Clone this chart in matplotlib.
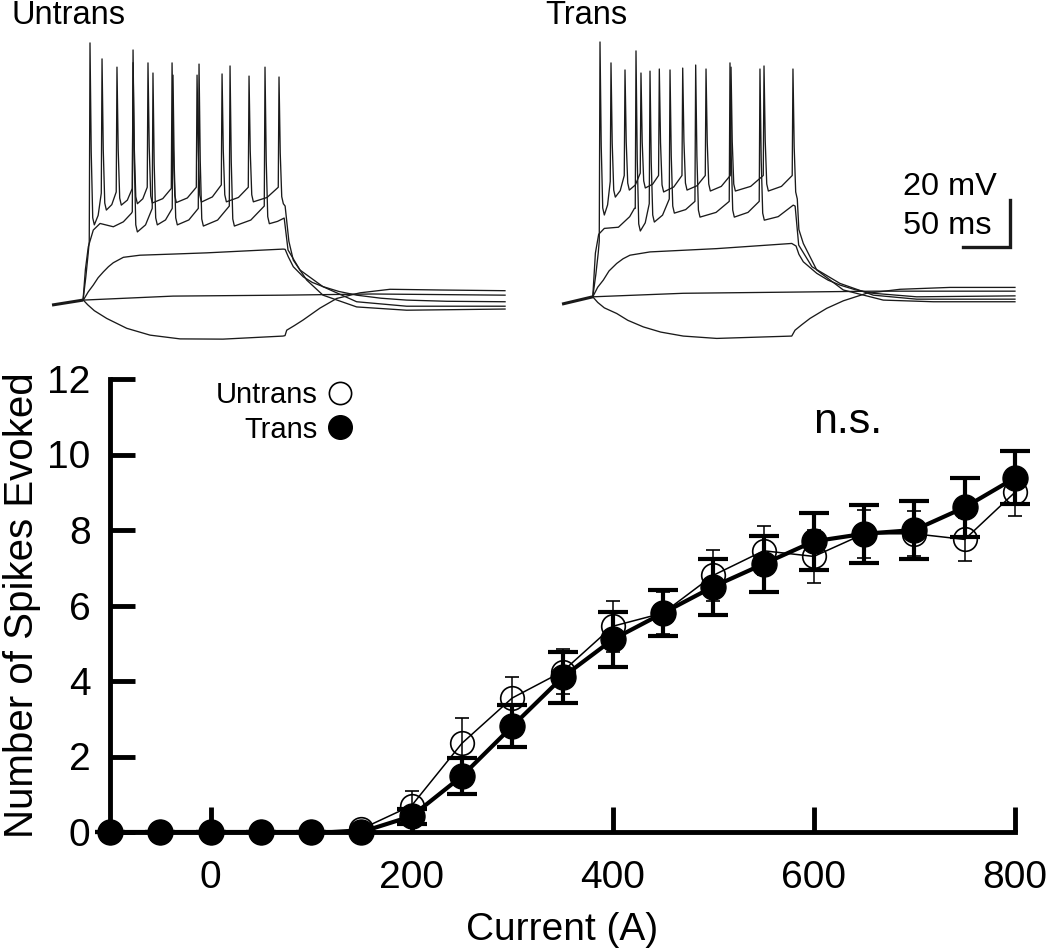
import numpy as np
import matplotlib
matplotlib.use("Agg")
import matplotlib.pyplot as plt

plt.rcParams['font.family'] = ['Liberation Sans', 'DejaVu Sans']

# ---- F-I curve data (current in A, spikes evoked, SEM) ----
currents = [-100, -50, 0, 50, 100, 150, 200, 250, 300, 350, 400, 450, 500, 550, 600, 650, 700, 750, 800]
untrans_mean = [0, 0, 0, 0, 0, 0.08, 0.7, 2.35, 3.55, 4.25, 5.45, 5.8, 6.8, 7.45, 7.3, 7.9, 7.9, 7.75, 9.0]
untrans_sem = [0, 0, 0, 0, 0, 0.05, 0.38, 0.68, 0.56, 0.6, 0.68, 0.55, 0.68, 0.65, 0.7, 0.63, 0.6, 0.58, 0.62]
trans_mean = [0, 0, 0, 0, 0, 0, 0.42, 1.48, 2.8, 4.1, 5.1, 5.8, 6.5, 7.1, 7.7, 7.9, 8.0, 8.6, 9.38]
trans_sem = [0, 0, 0, 0, 0, 0, 0.2, 0.48, 0.56, 0.67, 0.72, 0.6, 0.74, 0.75, 0.76, 0.77, 0.78, 0.78, 0.7]

# ---- example traces (time in ms, membrane potential in mV) ----
# Untrans
u_rest_t = [0, 33]
u_rest_v = [-67.1, -65.0]
u_hyp_t = [33.3, 38, 45, 58.2, 79.5, 104.3, 136.2, 181.9, 245.7, 247.9, 249.7, 258, 267, 285.1, 302.9, 327.7, 359.6, 412.8, 481.9]
u_hyp_v = [-65, -67.0, -69.5, -72.8, -77.0, -79.9, -81.5, -81.6, -80.3, -80.1, -77.8, -75.8, -73.5, -68.4, -64.3, -61.9, -60.4, -60.7, -61.0]
u_zero_t = [33, 128.7, 245.7, 341.5, 482]
u_zero_v = [-65, -63.3, -62.9, -62.4, -62.9]
u_sub_t = [33.3, 38.5, 43.9, 49, 54.6, 60, 65.2, 75.9, 93.6, 130, 164.6, 210, 246, 248, 251.4, 256.7, 267.3, 277, 288.6, 305, 324.1, 350, 377.3, 420, 482]
u_sub_v = [-65, -61.5, -58.6, -55.5, -53.0, -50.8, -49.1, -46.8, -45.9, -45.4, -44.9, -44.0, -43.3, -43.4, -46.6, -50.8, -55.1, -57.5, -59.3, -61.3, -62.9, -64.2, -65.0, -65.5, -65.7]
# Untrans, strong step
ua_pre_t = [33, 36, 38.5]
ua_pre_v = [-65, -55, -45]
ua_spk_t = [40.4, 53.2, 69.1, 86.2, 102.1, 127.7, 154.3, 180.9, 209.6, 241.5]
ua_spk_v = [44.4, 37.6, 34.1, 36.0, 35.9, 35.9, 30.7, 31.2, 30.3, 29.9]
ua_thr = [-40, -19.5, -19.0, -17.5, -17.0, -17.5, -17.0, -16.0, -17.0, -17.0]
ua_trough = [-33.0, -26.7, -24.6, -24.0, -23.7, -23.5, -23.3, -23.2, -23.2, -24.0]
ua_end_t = [248, 252, 256.7, 271, 288.3, 324.1, 377.3, 482]
ua_end_v = [-25, -40, -48, -56.5, -62.9, -67.9, -69.3, -68.8]
# Untrans, weaker step
ub_pre_t = [33, 35.5, 38.6, 43.9, 51.1, 65.2, 75.9, 84.6]
ub_pre_v = [-65, -52, -42.3, -35.2, -32.4, -33.8, -31.7, -28.0]
ub_spk_t = [86.2, 107.4, 128.7, 156.4, 189.4, 226.6]
ub_spk_v = [41.4, 31.6, 30.7, 35.4, 34.6, 34.1]
ub_thr = [-27.4, -26, -26, -26, -25, -25]
ub_trough = [-36.0, -33.0, -33.0, -33.5, -33.5, -32.5]
ub_end_t = [240, 247, 251.1, 263.8, 288.3, 324.1, 377.3, 482]
ub_end_v = [-31.5, -30.1, -43.7, -52.2, -59.3, -65.7, -67.6, -67.6]

# Trans
t_rest_t = [0, 32.7]
t_rest_v = [-66.7, -63.6]
t_hyp_t = [32.7, 38, 45, 58.2, 70, 86.5, 105, 129, 164.6, 244.4, 247.9, 255, 263.8, 281.6, 299.3, 324.1, 359.6, 412.8, 481.9]
t_hyp_v = [-63.6, -66.0, -68.3, -70.7, -73.6, -76.4, -78.6, -80.3, -81.3, -80.3, -77.8, -75.5, -72.8, -68.5, -65.3, -62.1, -60.4, -59.6, -59.6]
t_zero_t = [32.7, 129, 244.4, 333, 481.9]
t_zero_v = [-63.6, -62.1, -61.6, -61.2, -61.2]
t_sub_t = [32.7, 38, 43.9, 50, 58.2, 65, 72.3, 93.6, 164.6, 244.4, 249, 252, 256.7, 271, 283, 295.7, 312, 331.2, 377.3, 481.9]
t_sub_v = [-63.6, -59.5, -56.5, -52.6, -49.4, -47.4, -45.9, -44.5, -43.1, -40.9, -42.0, -45.5, -48.7, -53.6, -56.5, -58.6, -60.6, -62.1, -63.6, -63.2]
ta_pre_t = [32.7, 36, 38.5]
ta_pre_v = [-63.6, -54, -45]
ta_spk_t = [40.4, 52.1, 67.0, 84.0, 103.5, 128.4, 153.2, 179.8, 214.9, 245.7]
ta_spk_v = [44.8, 35.9, 32.9, 31.6, 33.3, 33.7, 33.3, 34.1, 34.6, 33.3]
ta_thr = [-40, -14.5, -12, -11, -12, -12, -12, -12, -12, -12]
ta_trough = [-28.8, -21.2, -18.2, -17.3, -19.0, -18.2, -18.6, -18.6, -18.6, -22.0]
ta_end_t = [252, 256.7, 271, 299.3, 341.8, 394.9, 481.9]
ta_end_v = [-35, -40.9, -52.2, -60.7, -65, -65.7, -65.7]
tb_pre_t = [32.7, 35.5, 39, 45, 60, 72, 77.0]
tb_pre_v = [-63.6, -45, -37, -34.5, -34.0, -29.5, -26]
tb_spk_t = [78.7, 93.6, 114.9, 142.2, 178.7, 210.6]
tb_spk_v = [41.0, 32.4, 32.9, 35.0, 35.9, 33.3]
tb_thr = [-26, -24, -22, -23, -23, -23]
tb_trough = [-35.6, -31.8, -28.0, -29.7, -29.7, -31.0]
tb_end_t = [230, 246, 248, 251.8, 265.9, 295.7, 331.2, 377.3, 481.9]
tb_end_v = [-29.5, -24.6, -25, -41.6, -50.8, -57.9, -62.9, -64.6, -64.6]


def spiking_trace(pre_t, pre_v, spk_t, spk_v, thr, trough, end_t, end_v):
    # join the read-off knots: ramp -> threshold -> peak -> trough for each spike
    t = list(pre_t)
    v = list(pre_v)
    for i, (ts, pk) in enumerate(zip(spk_t, spk_v)):
        if i > 0:
            prev = spk_t[i - 1]
            t.append(prev + 4.6 + 0.55 * (ts - prev - 5.4))
            v.append(trough[i - 1] + 0.3 * (thr[i] - trough[i - 1]))
        t += [ts - 0.8, ts, ts + 1.3, ts + 2.9, ts + 4.6]
        v += [thr[i], pk, pk - 0.6 * (pk - trough[i]), trough[i] + 3, trough[i]]
    for tt, vv in zip(end_t, end_v):
        if tt > t[-1]:
            t.append(tt)
            v.append(vv)
    return t, v


fig = plt.figure(figsize=(10.5, 9.52), dpi=100)

trace_sets = [
    ("Untrans", 40 / 1050, u_rest_t, u_rest_v,
     [(u_hyp_t, u_hyp_v), (u_zero_t, u_zero_v), (u_sub_t, u_sub_v),
      spiking_trace(ua_pre_t, ua_pre_v, ua_spk_t, ua_spk_v, ua_thr, ua_trough, ua_end_t, ua_end_v),
      spiking_trace(ub_pre_t, ub_pre_v, ub_spk_t, ub_spk_v, ub_thr, ub_trough, ub_end_t, ub_end_v)]),
    ("Trans", 550 / 1050, t_rest_t, t_rest_v,
     [(t_hyp_t, t_hyp_v), (t_zero_t, t_zero_v), (t_sub_t, t_sub_v),
      spiking_trace(ta_pre_t, ta_pre_v, ta_spk_t, ta_spk_v, ta_thr, ta_trough, ta_end_t, ta_end_v),
      spiking_trace(tb_pre_t, tb_pre_v, tb_spk_t, tb_spk_v, tb_thr, tb_trough, tb_end_t, tb_end_v)]),
]

trace_axes = []
for name, left, rt, rv, sweeps in trace_sets:
    tax = fig.add_axes([left, 0.6376, 480 / 1050, 0.3309])
    tax.plot(rt, rv, color='#1a1a1a', lw=2.2, solid_capstyle='butt')
    for st, sv in sweeps:
        tax.plot(st, sv, color='#1a1a1a', lw=0.95)
    tax.set_xlim(-12.8, 497.9)
    tax.set_ylim(-84.1, 49.9)
    tax.axis('off')
    trace_axes.append(tax)

fig.text(12 / 1050, 1 - 24 / 952, "Untrans", fontsize=23.5, ha='left', va='baseline')
fig.text(545 / 1050, 1 - 24 / 952, "Trans", fontsize=23.5, ha='left', va='baseline')

# scale bar: 50 ms x 20 mV
sax = trace_axes[1]
sax.plot([426.6, 476.6, 476.6], [-42.4, -42.4, -22.4], color='#1a1a1a', lw=2.4,
         solid_joinstyle='miter', clip_on=False)
fig.text(903 / 1050, 1 - 195 / 952, "20 mV", fontsize=23.4, ha='left', va='baseline')
fig.text(903 / 1050, 1 - 234 / 952, "50 ms", fontsize=23.4, ha='left', va='baseline')

# ---- F-I curve ----
ax = fig.add_axes([110 / 1050, 120 / 952, 905 / 1050, 453 / 952])
eb_u = ax.errorbar(currents, untrans_mean, yerr=untrans_sem, fmt='-o', color='black',
                   mfc='none', mec='black', ms=17, mew=1.2, lw=1.1, elinewidth=1.1,
                   capsize=5, capthick=1.1, zorder=3)
eb_t = ax.errorbar(currents, trans_mean, yerr=trans_sem, fmt='-o', color='black',
                   mfc='black', mec='black', ms=18, lw=3, elinewidth=3,
                   capsize=11, capthick=3, zorder=4)
for cont in (eb_u, eb_t):
    for art in cont.get_children():
        art.set_clip_on(False)

ax.set_xlim(-100, 800)
ax.set_ylim(0, 12)
ax.spines['top'].set_visible(False)
ax.spines['right'].set_visible(False)
ax.spines['left'].set_linewidth(3.5)
ax.spines['bottom'].set_linewidth(3.5)
ax.spines['left'].set_zorder(2)
ax.spines['bottom'].set_zorder(2)
ax.set_xticks([0, 200, 400, 600, 800])
ax.set_yticks([0, 2, 4, 6, 8, 10, 12])
ax.tick_params(direction='in', length=18, width=3.5, labelsize=28)
ax.tick_params(axis='x', pad=20)
ax.tick_params(axis='y', pad=14)

ax.set_xlabel("Current (A)", fontsize=28)
ax.xaxis.label.set_va('center')
ax.xaxis.set_label_coords(0.5, -0.216)
ax.set_ylabel("Number of Spikes Evoked", fontsize=29)
ax.yaxis.label.set_va('center')
ax.yaxis.set_label_coords(-0.0972, 0.5)

ax.text(634, 10.57, "n.s.", fontsize=31, ha='center', va='baseline')

# legend drawn by hand: text right-aligned, marker to the right
ax.text(0.2298, 0.947, "Untrans", transform=ax.transAxes, fontsize=21, ha='right', va='baseline')
ax.text(0.2298, 0.8698, "Trans", transform=ax.transAxes, fontsize=21, ha='right', va='baseline')
ax.plot([0.2541], [0.9691], 'o', transform=ax.transAxes, ms=16, mfc='none', mec='black', mew=1.2, clip_on=False)
ax.plot([0.2541], [0.894], 'o', transform=ax.transAxes, ms=17, mfc='black', mec='black', clip_on=False)

fig.savefig("out.png", dpi=100)
